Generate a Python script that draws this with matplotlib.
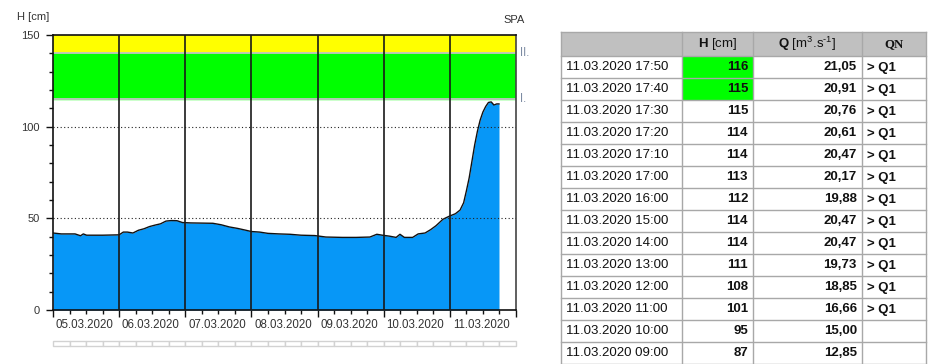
import matplotlib
matplotlib.use("Agg")
import matplotlib.pyplot as plt
from matplotlib.patches import Rectangle
import numpy as np

plt.rcParams['font.family'] = ['Liberation Sans', 'DejaVu Sans']
plt.rcParams['mathtext.fontset'] = 'custom'
plt.rcParams['mathtext.rm'] = 'Liberation Sans'
plt.rcParams['mathtext.bf'] = 'Liberation Sans:bold'

# ---- chart data: hours since 05.03.2020 00:00, water level H [cm] ----
hours = [0, 3, 8, 10, 11, 12.2, 18, 24, 25.5, 27, 29, 31, 33, 35, 37, 39, 41, 43, 45, 47,
         50, 54, 58, 61, 64, 67, 70, 72, 75, 78, 82, 86, 90, 95, 99, 105, 110, 115, 117.5,
         119.5, 122, 124.5, 125.9, 127.5, 130.5, 132.5, 135, 137, 139, 141.5, 144, 146,
         147.7, 149, 150, 151, 152, 153, 154, 155, 156, 157, 158, 159, 160, 161, 161.83]
level = [42, 41.5, 41.5, 40.5, 41.5, 40.8, 40.8, 41, 42.5, 42.5, 42, 43.5, 44.3, 45.5, 46.3,
         47, 48.5, 48.8, 48.7, 47.7, 47.5, 47.4, 47.3, 46.5, 45.3, 44.5, 43.5, 42.8, 42.5,
         41.8, 41.5, 41.3, 40.8, 40.6, 39.8, 39.6, 39.6, 39.8, 41.3, 40.8, 40.3, 39.6, 41.3,
         39.6, 39.6, 41.5, 42, 43.8, 46, 49.5, 51.3, 52.5, 54.5, 58.5, 65, 72, 81, 90, 97.5,
         103.6, 108, 111, 113.2, 113.5, 111.8, 112.4, 112.4]
day_labels = ["05.03.2020", "06.03.2020", "07.03.2020", "08.03.2020",
              "09.03.2020", "10.03.2020", "11.03.2020"]
flood_levels = [115, 140, 150]          # I., II., top
flood_names = ["I.", "II."]

# ---- table data ----
tab_time = ["11.03.2020 17:50", "11.03.2020 17:40", "11.03.2020 17:30", "11.03.2020 17:20",
            "11.03.2020 17:10", "11.03.2020 17:00", "11.03.2020 16:00", "11.03.2020 15:00",
            "11.03.2020 14:00", "11.03.2020 13:00", "11.03.2020 12:00", "11.03.2020 11:00",
            "11.03.2020 10:00", "11.03.2020 09:00"]
tab_h = [116, 115, 115, 114, 114, 113, 112, 114, 114, 111, 108, 101, 95, 87]
tab_q = ["21,05", "20,91", "20,76", "20,61", "20,47", "20,17", "19,88", "20,47", "20,47",
         "19,73", "18,85", "16,66", "15,00", "12,85"]
tab_qn = ["> Q1"] * 12 + ["", ""]
tab_h_green = [True, True] + [False] * 12

W, H = 945, 364
fig = plt.figure(figsize=(W / 100, H / 100), dpi=100)
ax = fig.add_axes([53 / W, 1 - 310 / H, 463 / W, 275 / H])

ax.axhspan(flood_levels[1], flood_levels[2], color='#ffff00', zorder=0)
ax.axhspan(flood_levels[0], flood_levels[1], color='#00ff00', zorder=0)
for y in flood_levels[:2]:
    ax.axhline(y, color='#c4c4c4', lw=1.3, zorder=1)

ax.fill_between(hours, level, 0, color='#0797f7', lw=0, zorder=2)
ax.plot(hours, level, color='#111111', lw=1.0, zorder=3)

for y in (50, 100):
    ax.axhline(y, color='#222222', lw=0.8, ls=(0, (1, 2.2)), zorder=4)
for d in range(1, 7):
    ax.axvline(24 * d, color='#1a1a1a', lw=1.2, zorder=5)

ax.set_xlim(0, 168)
ax.set_ylim(0, 150)
ax.set_yticks([0, 50, 100, 150])
ax.set_yticks(np.arange(0, 151, 10), minor=True)
ax.set_xticks(np.arange(0, 169, 24))
ax.set_xticks(np.arange(0, 169, 6), minor=True)
ax.set_xticklabels([])
ax.tick_params(axis='y', which='major', length=5, width=1, color='#111', labelsize=8,
               labelcolor='#333333', pad=4.5)
ax.tick_params(axis='y', which='minor', length=3, width=1, color='#111')
ax.tick_params(axis='x', which='major', length=5, width=1, color='#111')
ax.tick_params(axis='x', which='minor', length=3, width=1, color='#111')
for s in ['left', 'bottom', 'top']:
    ax.spines[s].set_color('#111111')
    ax.spines[s].set_linewidth(1.2)
ax.spines['right'].set_color('#444444')
ax.spines['right'].set_linewidth(1.2)

xt = ax.get_xaxis_transform()
for i, lab in enumerate(day_labels):
    ax.text(24 * i + 11.5, -0.055, lab, transform=xt, ha='center', va='center',
            fontsize=8.3, color='#333333')
# scroll bar
for h0 in range(0, 168, 6):
    ax.add_patch(Rectangle((h0, -0.131), 6, 0.018, transform=xt, facecolor='white',
                           edgecolor='#d2d2d2', lw=1.0, clip_on=False))

yt = ax.get_yaxis_transform()
for y, name in zip(flood_levels[:2], flood_names):
    ax.text(1.008, y, name, transform=yt, ha='left', va='center', fontsize=8.3,
            color='#7d8ca3')

# overlay in pixel coordinates
ov = fig.add_axes([0, 0, 1, 1], zorder=10)
ov.set_xlim(0, W)
ov.set_ylim(H, 0)
ov.axis('off')
ov.patch.set_alpha(0)

ov.text(33, 17, "H [cm]", ha='center', va='center', fontsize=8, color='#333333')
ov.text(514, 20, "SPA", ha='center', va='center', fontsize=8, color='#333333')

# table
cols = [561, 682, 753, 862, 926]
top, hdr_bot, rh = 31.5, 56, 22
nrow = len(tab_time)
grid_c = '#a8a8a8'
ov.add_patch(Rectangle((cols[0], top), cols[-1] - cols[0], hdr_bot - top,
                       facecolor='#c0c0c0', edgecolor='none'))
for i, g in enumerate(tab_h_green):
    if g:
        ov.add_patch(Rectangle((cols[1], hdr_bot + i * rh), cols[2] - cols[1], rh,
                               facecolor='#00ff00', edgecolor='none'))
bottom = hdr_bot + nrow * rh
for x in cols:
    ov.plot([x, x], [top, bottom], color=grid_c, lw=1.0)
ov.plot([cols[0], cols[-1]], [top, top], color=grid_c, lw=1.0)
for i in range(nrow + 1):
    y = hdr_bot + i * rh
    ov.plot([cols[0], cols[-1]], [y, y], color=grid_c, lw=1.0)

fs = 9.5
hy = (top + hdr_bot) / 2
ov.text((cols[1] + cols[2]) / 2, hy, r"$\mathbf{H}$ [cm]", ha='center', va='center',
        fontsize=fs, color='#111111')
ov.text((cols[2] + cols[3]) / 2, hy, r"$\mathbf{Q}$ [m$^{3}$.s$^{\text{-}1}$]",
        ha='center', va='center', fontsize=fs, color='#111111')
ov.text((cols[3] + cols[4]) / 2, hy, "QN", ha='center', va='center', fontsize=9.2,
        fontweight='bold', family='Liberation Serif', color='#111111')

for i in range(nrow):
    yc = hdr_bot + i * rh + rh / 2 + 0.5
    ov.text(cols[0] + 5, yc, tab_time[i], ha='left', va='center', fontsize=fs,
            color='#111111')
    ov.text(cols[2] - 5, yc, str(tab_h[i]), ha='right', va='center', fontsize=fs,
            fontweight='bold', color='#111111')
    ov.text(cols[3] - 5, yc, tab_q[i], ha='right', va='center', fontsize=fs,
            fontweight='bold', color='#111111')
    ov.text(cols[3] + 5, yc, tab_qn[i], ha='left', va='center', fontsize=fs,
            fontweight='bold', color='#111111')

fig.savefig("out.png", dpi=100)
